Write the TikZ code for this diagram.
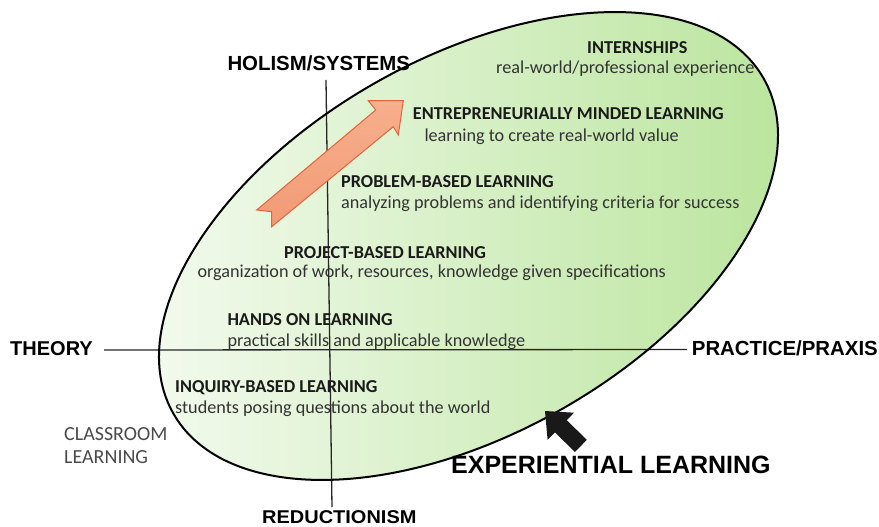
\documentclass[tikz,border=0pt]{standalone}
\usepackage{fontspec}
\setmainfont{Carlito}
\newfontfamily\arialf{Liberation Sans}
\usetikzlibrary{calc}
\definecolor{ellL}{HTML}{F5FBF1}
\definecolor{ellR}{HTML}{B8E49A}
\definecolor{arrL}{HTML}{F7AF8D}
\definecolor{arrR}{HTML}{F29A75}
\definecolor{arrB}{HTML}{E2643C}
\definecolor{bodyc}{HTML}{333333}
\definecolor{headc}{HTML}{1A1A1A}
\definecolor{grayc}{HTML}{4A4A4A}
\tikzset{
  head/.style={anchor=base west, inner sep=0pt, text=headc, font=\fontsize{18.2}{20}\selectfont\bfseries},
  sub/.style={anchor=base west, inner sep=0pt, text=bodyc, font=\fontsize{18.2}{20}\selectfont},
  axislabel/.style={anchor=base west, inner sep=0pt, text=black, font=\arialf\fontsize{20.4}{24}\selectfont\bfseries},
  axisline/.style={draw=black!85, line width=1.3pt},
  gray label/.style={anchor=base west, inner sep=0pt, text=grayc, font=\fontsize{20}{22}\selectfont},
}
\begin{document}
\begin{tikzpicture}[x=1pt,y=-1pt]
\useasboundingbox (0,0) rectangle (879,527);
% ellipse
\shade[left color=ellL, right color=ellR, rotate around={29.55:(468.5,246)}]
  (468.5,246) ellipse [x radius=339.4pt, y radius=187.9pt];
% axes
\coordinate (vtop) at (326,80);
\coordinate (vbot) at (332,507);
\coordinate (hl) at (104,350);
\coordinate (hr) at (687,349.5);
\draw[axisline] (hl) -- (hr);
\draw[axisline] (vtop) -- (vbot);
\draw[black, line width=2pt, rotate around={29.55:(468.5,246)}]
  (468.5,246) ellipse [x radius=339.4pt, y radius=187.9pt];
% orange arrow
\shade[top color=arrL, bottom color=arrR, draw=arrB, line width=1pt, line join=miter]
  (256.7,210) -- (375.7,110) -- (368.3,100.7) -- (403.3,100.7) -- (398.3,135)
  -- (393.3,126.7) -- (271.7,226.7) -- (271.7,211.7) -- cycle;
% black arrow
\fill[black!90] (545,411) -- (574,412.7) -- (566.7,420.2) -- (586.8,439.8)
  -- (575,452) -- (554.9,432.4) -- (547.6,439.9) -- cycle;
% axis labels
\node[axislabel] (holism) at (227.3,70.7) {HOLISM/SYSTEMS};
\node[axislabel, font=\arialf\fontsize{20}{24}\selectfont\bfseries] (theory) at (10,355) {THEORY};
\node[axislabel] (praxis) at (691.7,355) {PRACTICE/PRAXIS};
\node[axislabel, font=\arialf\fontsize{18.5}{22}\selectfont\bfseries] (reduct) at (262,523.5) {\scalebox{1.08}[1]{REDUCTIONISM}};
\node[axislabel, font=\arialf\fontsize{25}{30}\selectfont\bfseries] (exper) at (451,473) {EXPERIENTIAL LEARNING};
% levels
\node[head] (intern) at (587,53.3) {INTERNSHIPS};
\node[sub] (internS) at (496,74) {real-world/professional experience};
\node[head] (entre) at (412.7,119.5) {ENTREPRENEURIALLY MINDED LEARNING};
\node[sub] (entreS) at (424.3,141.5) {learning to create real-world value};
\node[head] (prob) at (341,187) {PROBLEM-BASED LEARNING};
\node[sub] (probS) at (341,208) {analyzing problems and identifying criteria for success};
\node[head] (proj) at (284,258.3) {PROJECT-BASED LEARNING};
\node[sub] (projS) at (197.3,277.3) {organization of work, resources, knowledge given specifications};
\node[head] (hands) at (227.3,325) {HANDS ON LEARNING};
\node[sub] (handsS) at (227.3,346.7) {practical skills and applicable knowledge};
\node[head] (inq) at (175,392.7) {INQUIRY-BASED LEARNING};
\node[sub] (inqS) at (175,413.3) {students posing questions about the world};
\node[gray label] (class1) at (64,440) {CLASSROOM};
\node[gray label] (class2) at (64,463.3) {LEARNING};
\end{tikzpicture}
\end{document}
